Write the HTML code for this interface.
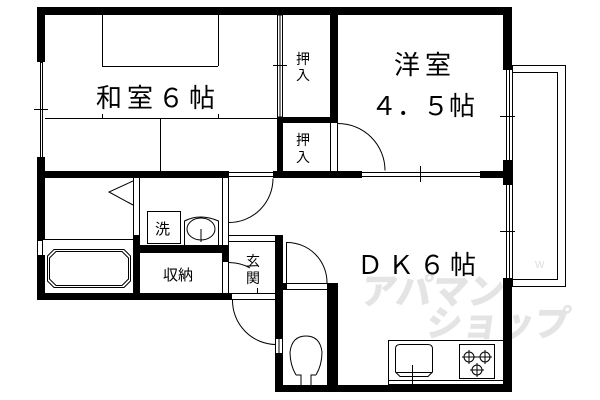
<!DOCTYPE html>
<html><head><meta charset="utf-8"><style>
html,body{margin:0;padding:0;background:#fff;width:600px;height:400px;overflow:hidden}
svg text{font-family:"Liberation Sans","Noto Sans CJK JP",sans-serif;fill:#000}
</style></head><body>
<svg width="600" height="400" viewBox="0 0 600 400" xmlns="http://www.w3.org/2000/svg">
<g font-weight="900">
<text x="402" y="304" font-size="36" style="fill:#e4e4e4;font-family:'Noto Sans CJK JP',sans-serif;font-weight:900" transform="skewX(-8)">アパマン</text>
<text x="472" y="336" font-size="36" style="fill:#e4e4e4;font-family:'Noto Sans CJK JP',sans-serif;font-weight:900" transform="skewX(-8)">ショップ</text>
</g>
<text x="535" y="268" font-size="13" style="fill:#e0e0e0">w</text>

<g fill="#000">
<rect x="37" y="7" width="475" height="8"/>
<rect x="37" y="7" width="8" height="55"/>
<rect x="37" y="157" width="8" height="83"/>
<rect x="37" y="255" width="8" height="45"/>
<rect x="37" y="293" width="195" height="7"/>
<rect x="503" y="7" width="9" height="63"/>
<rect x="503" y="160" width="9" height="25"/>
<rect x="503" y="278" width="9" height="114"/>
<rect x="275" y="385" width="237" height="7"/>
<rect x="37" y="171" width="192" height="7"/>
<rect x="273" y="171" width="89" height="7"/>
<rect x="480" y="171" width="32" height="7"/>
<rect x="330" y="15" width="8" height="108"/>
<rect x="277" y="117" width="61" height="6"/>
<rect x="277" y="117" width="6" height="61"/>
<rect x="133" y="235" width="7" height="58"/>
<rect x="140" y="245" width="89" height="8"/>
<rect x="222" y="245" width="7" height="17"/>
<rect x="275" y="235" width="8" height="103"/>
<rect x="275" y="353" width="8" height="39"/>
<rect x="222" y="293" width="10" height="7"/>
<rect x="283" y="283" width="4" height="7"/>
<rect x="327" y="283" width="11" height="109"/>
</g>

<g fill="none" stroke="#000" stroke-width="1">
<rect x="40.5" y="62.5" width="2" height="95"/>
<line x1="34" y1="109.5" x2="48" y2="109.5"/>
<rect x="37.5" y="240.5" width="5" height="15"/>
<line x1="506.5" y1="70" x2="506.5" y2="160"/><line x1="509.5" y1="70" x2="509.5" y2="160"/>
<line x1="500" y1="116.5" x2="515" y2="116.5"/>
<line x1="506.5" y1="185" x2="506.5" y2="278"/><line x1="509.5" y1="185" x2="509.5" y2="278"/>
<line x1="500" y1="231.5" x2="515" y2="231.5"/>
<rect x="512.5" y="65.5" width="53" height="221"/>
<rect x="512.5" y="72.5" width="45" height="207"/>
<rect x="277.5" y="15" width="5" height="102"/>
<line x1="280" y1="15" x2="280" y2="117"/>
<line x1="273" y1="65.5" x2="287" y2="65.5"/>
<line x1="362" y1="172.5" x2="480" y2="172.5"/><line x1="362" y1="176.5" x2="480" y2="176.5"/>
<line x1="420.5" y1="166" x2="420.5" y2="182"/>
<line x1="330.5" y1="123" x2="330.5" y2="171"/><line x1="337.5" y1="123" x2="337.5" y2="171"/>
<path d="M338 123.5 A47 47 0 0 1 385 170.5"/>
<line x1="229" y1="172.5" x2="273" y2="172.5"/><line x1="229" y1="176.5" x2="273" y2="176.5"/>
<line x1="102.5" y1="15" x2="102.5" y2="66"/><line x1="218.5" y1="15" x2="218.5" y2="66"/>
<line x1="102" y1="66.5" x2="218" y2="66.5"/>
<line x1="45" y1="118.5" x2="277" y2="118.5"/>
<line x1="160.5" y1="118" x2="160.5" y2="171"/>
<line x1="102.5" y1="114" x2="102.5" y2="118"/><line x1="218.5" y1="114" x2="218.5" y2="118"/>
<line x1="133.5" y1="178" x2="133.5" y2="235"/><line x1="139.5" y1="178" x2="139.5" y2="235"/>
<polyline points="133,181 109,192 133,205"/>
<line x1="45" y1="239.5" x2="133" y2="239.5"/>
<path d="M54 249.5 H124 L130.5 256 V281 L124 287.5 H54 L47.5 281 V256 Z"/>
<path d="M56 251.5 H122 L128.5 258 V279 L122 285.5 H56 L49.5 279 V258 Z"/>
<line x1="222.5" y1="178" x2="222.5" y2="245"/><line x1="228.5" y1="178" x2="228.5" y2="245"/>
<rect x="147.5" y="211.5" width="33" height="32"/>
<path d="M184.5 245 V221 Q200 213 218.5 221 V245"/>
<ellipse cx="201" cy="229" rx="14" ry="11"/>
<line x1="201" y1="229" x2="201" y2="242"/>
<path d="M229 222.5 A44 44 0 0 0 273 178.5"/>
<line x1="229" y1="235.5" x2="275" y2="235.5"/><line x1="229" y1="241.5" x2="275" y2="241.5"/>
<line x1="222.5" y1="262" x2="222.5" y2="293"/><line x1="228.5" y1="262" x2="228.5" y2="293"/>
<path d="M229 262.5 Q242 263 250 268"/>
<line x1="257.5" y1="288" x2="257.5" y2="293"/>
<line x1="232" y1="293.5" x2="275" y2="293.5"/><line x1="232" y1="299.5" x2="275" y2="299.5"/>
<path d="M232.5 300 A44 44 0 0 0 276 344.5"/>
<rect x="275.5" y="338.5" width="7" height="15"/>
<line x1="279" y1="338" x2="279" y2="353"/>
<line x1="286.5" y1="242" x2="286.5" y2="283"/>
<path d="M287 242.5 A40 40 0 0 1 327 283"/>
<line x1="287" y1="283.5" x2="327" y2="283.5"/><line x1="287" y1="289.5" x2="327" y2="289.5"/>
<path d="M296 375 Q290 365 290 352 Q292 336 306 336 Q320 336 322 352 Q322 365 316 375"/>
<path d="M296 375 H301 V385 M311 385 V375 H316"/>
<rect x="388.5" y="340.5" width="115" height="44"/>
<line x1="388" y1="380.5" x2="503" y2="380.5"/>
<path d="M400 344.5 H428 Q432.5 344.5 432.5 349 V372 L428 376.5 H400 L395.5 372 V349 Q395.5 344.5 400 344.5 Z"/>
<line x1="396" y1="372.5" x2="432" y2="372.5"/>
<line x1="412.5" y1="365" x2="412.5" y2="385"/>
<rect x="459.5" y="344.5" width="35" height="34"/>
<circle cx="469" cy="357" r="5"/><circle cx="485" cy="357" r="5"/><circle cx="477" cy="370" r="5"/>
<line x1="462" y1="357" x2="492" y2="357"/><line x1="469" y1="350" x2="469" y2="364"/><line x1="485" y1="350" x2="485" y2="364"/>
<line x1="470" y1="370" x2="484" y2="370"/><line x1="477" y1="363" x2="477" y2="377"/>
</g>

<text x="96" y="107" font-size="26" letter-spacing="5">和室６帖</text>
<text x="394" y="74" font-size="26" letter-spacing="5">洋室</text>
<text x="371" y="115" font-size="26" letter-spacing="0">４．５帖</text>
<text x="357" y="274" font-size="26" letter-spacing="5">ＤＫ６帖</text>
<text x="296" y="64" font-size="14">押</text><text x="296" y="80" font-size="14">入</text>
<text x="296" y="145" font-size="14">押</text><text x="296" y="162" font-size="14">入</text>
<text x="155" y="234" font-size="15">洗</text>
<text x="163" y="280" font-size="15">収納</text>
<text x="246" y="266" font-size="14">玄</text><text x="246" y="283" font-size="14">関</text>
</svg>
</body></html>
